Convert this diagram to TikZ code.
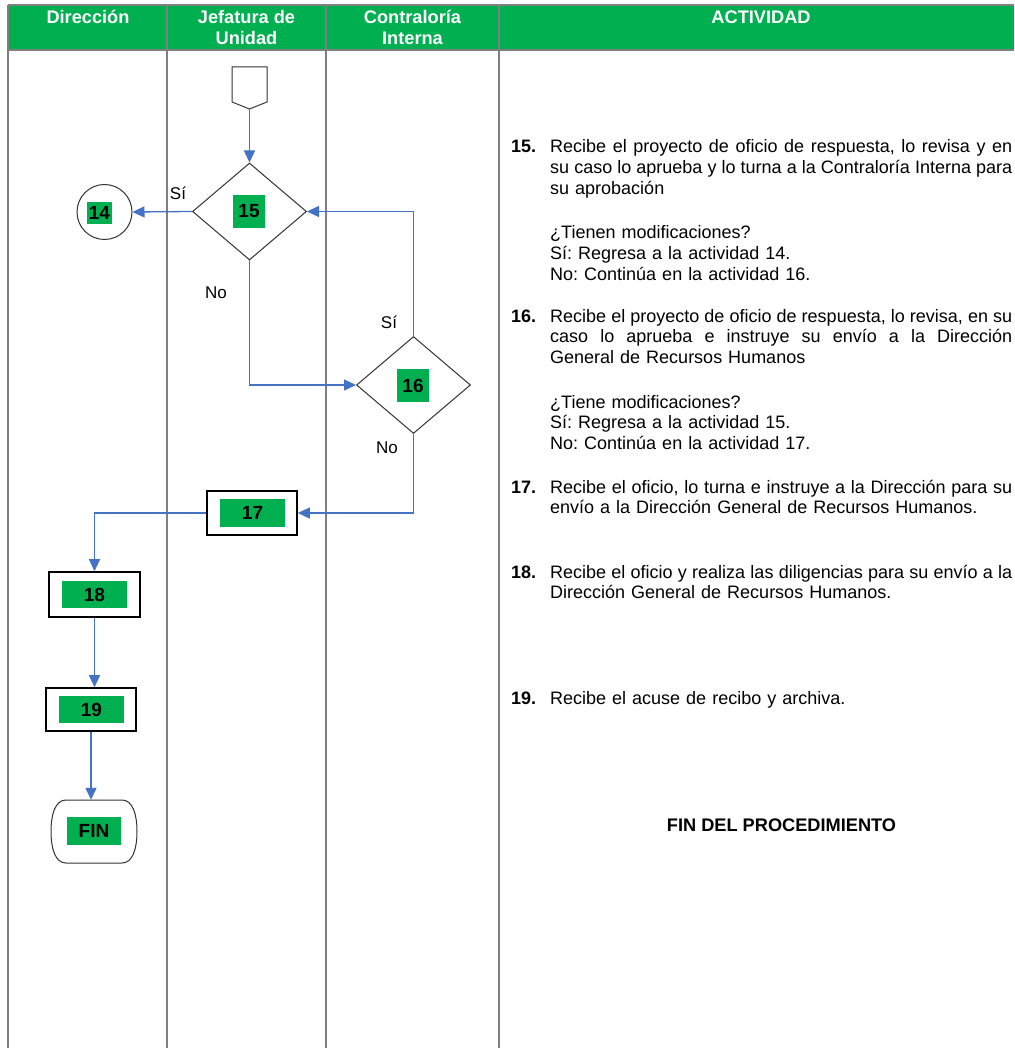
\documentclass[tikz,border=0pt]{standalone}
\usepackage{fontspec}
\setmainfont{Liberation Sans}
\usetikzlibrary{shapes.geometric,arrows.meta}
\definecolor{hdr}{HTML}{00B050}
\definecolor{arr}{HTML}{4472C4}
\definecolor{rulec}{HTML}{7F7F7F}
\newcommand{\fsz}{\fontsize{18}{20.8}\selectfont\frenchspacing}
\newcommand{\jl}[1]{\makebox[462pt][s]{\spaceskip=0.278em plus 3em minus 0.12em\xspaceskip=\spaceskip #1}}
\begin{document}
\begin{tikzpicture}[x=1pt,y=-1pt,
  flow/.style={draw=arr,line width=1.3pt,-{Triangle[length=12pt,width=11pt]}},
  lane/.style={draw=rulec,line width=1.2pt},
  hd/.style={text=white,font=\fontsize{18.2}{21}\selectfont\bfseries,align=center,anchor=base,inner sep=0pt},
  lab/.style={fill=hdr,inner sep=0pt,font=\fontsize{19}{22}\selectfont\bfseries},
  dec/.style={diamond,draw=black!80,line width=1pt,inner sep=0pt,aspect=1.175,minimum width=114pt,minimum height=97pt},
  proc/.style={rectangle,draw=black,line width=1.6pt,inner sep=0pt},
  yn/.style={font=\fontsize{17}{20}\selectfont,inner sep=0pt},
  num/.style={font=\fsz\bfseries,anchor=base west,inner sep=0pt},
  txt/.style={font=\fsz,anchor=base west,inner sep=0pt,align=left,text width=462pt},
  fdl/.style={draw=black!80,line width=1pt}
]
\useasboundingbox (0,0) rectangle (1014,1048);
\fill[white] (0,0) rectangle (1014,1048);
% header
\fill[hdr] (8,5) rectangle (1014,50);
\draw[lane] (8,5) -- (1014,5);
\draw[lane] (8,50) -- (1014,50);
\foreach \x in {8,167,326,499} \draw[lane] (\x,5) -- (\x,1048);
\node[hd] (h1) at (88,24) {Dirección};
\node[hd] (h2) at (246.5,45) {Jefatura de\\Unidad};
\node[hd] (h3) at (412.5,45) {Contraloría\\Interna};
\node[hd] (h4) at (761,24) {ACTIVIDAD};

% flow shapes
\draw[fdl] (232,67) -- (267,67) -- (267,102) -- (249.5,109) -- (232,102) -- cycle;
\coordinate (st) at (249.5,109);
\node[dec] (d15) at (249.5,211.5) {};
\node[lab,minimum width=32pt,minimum height=33pt] (l15) at (249,211.5) {15};
\node[circle,draw=black!80,line width=1pt,minimum size=55pt,inner sep=0pt] (c14) at (104.5,212) {};
\node[lab,minimum width=25pt,minimum height=22pt] (l14) at (99.5,213) {14};
\node[dec] (d16) at (413.5,385) {};
\node[lab,minimum width=32pt,minimum height=33pt] (l16) at (413,385.5) {16};
\node[proc,minimum width=90pt,minimum height=44pt] (b17) at (252,513) {};
\node[lab,minimum width=65pt,minimum height=28pt] (l17) at (252.5,513) {17};
\node[proc,minimum width=91pt,minimum height=45pt] (b18) at (94.5,594.5) {};
\node[lab,minimum width=65pt,minimum height=27pt] (l18) at (94.5,594.5) {18};
\node[proc,minimum width=90pt,minimum height=43pt] (b19) at (91,709.5) {};
\node[lab,minimum width=65pt,minimum height=27pt] (l19) at (91.5,709.5) {19};
\node[minimum width=86pt,minimum height=63pt,inner sep=0pt] (fin) at (94,831.5) {};
\draw[fdl] (66,800) -- (122,800) .. controls (133,800) and (137,815) .. (137,831.5)
  .. controls (137,848) and (133,863) .. (122,863) -- (66,863)
  .. controls (55,863) and (51,848) .. (51,831.5)
  .. controls (51,815) and (55,800) .. (66,800) -- cycle;
\node[lab,minimum width=54pt,minimum height=28pt] (lfin) at (94,831) {FIN};

% connectors
\draw[flow] (st) -- (d15.north);
\draw[flow] (d15.west) -- (c14.east);
\draw[flow] (d15.south) |- (d16.west);
\draw[flow] (d16.north) |- (d15.east);
\draw[flow] (d16.south) |- (b17.east);
\draw[flow] (b17.west) -| (b18.north);
\draw[flow] (b18.south) -- (b18.south |- b19.north);
\draw[flow] (b19.south) -- (b19.south |- fin.north);

\node[yn] (s1) at (178,193) {Sí};
\node[yn] (n1) at (216,293) {No};
\node[yn] (s2) at (389,322) {Sí};
\node[yn] (n2) at (387,448) {No};

% activity text
\node[num] (a15) at (511,153) {15.};
\node[txt] (t15) at (550,153) {\jl{Recibe el proyecto de oficio de respuesta, lo revisa y en}\\\jl{su caso lo aprueba y lo turna a la Contraloría Interna para}\\su aprobación};
\node[txt] (q15) at (550,239) {¿Tienen modificaciones?\\Sí: Regresa a la actividad 14.\\No: Continúa en la actividad 16.};
\node[num] (a16) at (511,322) {16.};
\node[txt] (t16) at (550,322) {\jl{Recibe el proyecto de oficio de respuesta, lo revisa, en su}\\\jl{caso lo aprueba e instruye su envío a la Dirección}\\General de Recursos Humanos};
\node[txt] (q16) at (550,408) {¿Tiene modificaciones?\\Sí: Regresa a la actividad 15.\\No: Continúa en la actividad 17.};
\node[num] (a17) at (511,493) {17.};
\node[txt] (t17) at (550,493) {\jl{Recibe el oficio, lo turna e instruye a la Dirección para su}\\envío a la Dirección General de Recursos Humanos.};
\node[num] (a18) at (511,578) {18.};
\node[txt] (t18) at (550,578) {\jl{Recibe el oficio y realiza las diligencias para su envío a la}\\Dirección General de Recursos Humanos.};
\node[num] (a19) at (511,704) {19.};
\node[txt] (t19) at (550,704) {Recibe el acuse de recibo y archiva.};
\node[font=\fontsize{18.2}{21}\selectfont\bfseries,inner sep=0pt,anchor=base] (fp) at (781.5,831) {FIN DEL PROCEDIMIENTO};
\end{tikzpicture}
\end{document}
